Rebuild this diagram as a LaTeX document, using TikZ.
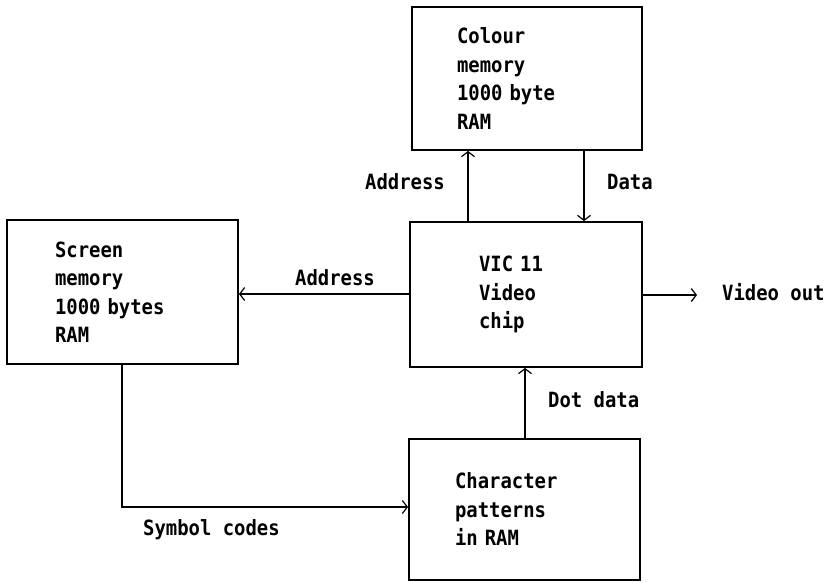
\documentclass[tikz,border=0pt]{standalone}
\usepackage{fontspec}
\newfontfamily\pixfont[FakeStretch=0.9]{DejaVu Sans Mono}
\usetikzlibrary{arrows.meta}
\begin{document}
\begin{tikzpicture}[x=1pt,y=-1pt,
  txt/.style={font=\pixfont\bfseries\fontsize{21}{28.5}\selectfont},
  box/.style={txt, draw, line width=1.8pt, rectangle, inner ysep=0pt, align=left},
  lbl/.style={txt, anchor=base west, inner sep=0pt},
  conn/.style={line width=1.4pt, -{Straight Barb[length=5pt,width=13pt,line width=1.2pt]}}]
\useasboundingbox[fill=white] (0,0) rectangle (826,582);

\node[box, minimum width=230pt, minimum height=143pt, inner xsep=45pt, text width=140pt] (colour) at (527,78.5) {Colour\\memory\\1000 byte\\RAM};
\node[box, minimum width=231pt, minimum height=144pt, inner xsep=48pt, text width=135pt] (screen) at (122.5,292) {Screen\\memory\\1000 bytes\\RAM};
\node[box, minimum width=232pt, minimum height=145pt, inner xsep=69pt, text width=94pt] (vic) at (526,294.5) {VIC 11\\Video\\chip};
\node[box, minimum width=231pt, minimum height=141pt, inner xsep=46pt, text width=139pt] (chr) at (524.5,509.5) {Character\\patterns\\in RAM};

\coordinate (ax) at (468,0);
\coordinate (dx) at (584,0);
\coordinate (ly) at (0,294);
\coordinate (vo) at (697,295);
\coordinate (ddx) at (525,0);
\coordinate (sx) at (122,507);

\draw[conn] (vic.north -| ax) -- (colour.south -| ax);
\draw[conn] (colour.south -| dx) -- (vic.north -| dx);
\draw[conn] (vic.west |- ly) -- (screen.east |- ly);
\draw[conn] (vic.east |- vo) -- (vo);
\draw[conn] (chr.north -| ddx) -- (vic.south -| ddx);
\draw[conn] (screen.south -| sx) -- (sx) -- (chr.west |- sx);

\node[lbl] (l1) at (365,189.5) {Address};
\node[lbl] (l2) at (607,189.5) {Data};
\node[lbl] (l3) at (295,285) {Address};
\node[lbl] (l4) at (722,300) {Video out};
\node[lbl] (l5) at (548,407) {Dot data};
\node[lbl] (l6) at (143,535) {Symbol codes};
\end{tikzpicture}
\end{document}
